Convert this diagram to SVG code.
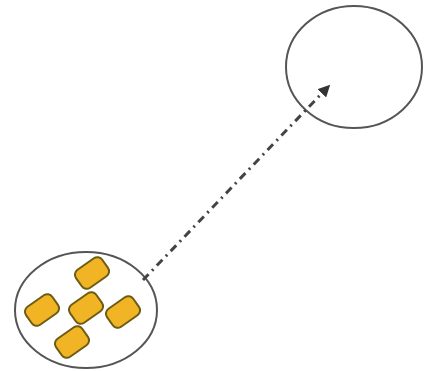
<svg xmlns="http://www.w3.org/2000/svg" width="424" height="371" viewBox="0 0 424 371">
<style>
.c{fill:#fff;stroke:#555;stroke-width:2}
.r{fill:#f0b424;stroke:#6e5c14;stroke-width:2}
.e{fill:none;stroke:#444;stroke-width:3;stroke-dasharray:8 5 2 5}
</style>
<defs>
<marker id="ah" viewBox="0 0 10 10" refX="5" refY="5" markerWidth="4" markerHeight="4" orient="auto">
<path d="M0,0L10,5L0,10z" fill="#333"/>
</marker>
</defs>
<rect width="424" height="371" fill="#fff"/>
<g id="target"><ellipse class="c" cx="354" cy="67" rx="68" ry="61"/></g>
<g id="source">
<ellipse class="c" cx="86" cy="310" rx="71" ry="58"/>
<rect class="r" x="-16" y="-11" width="32" height="22" rx="6" transform="translate(92,273) rotate(-35)"/>
<rect class="r" x="-16" y="-11" width="32" height="22" rx="6" transform="translate(42,310) rotate(-35)"/>
<rect class="r" x="-16" y="-11" width="32" height="22" rx="6" transform="translate(86,308) rotate(-35)"/>
<rect class="r" x="-16" y="-11" width="32" height="22" rx="6" transform="translate(123,312) rotate(-35)"/>
<rect class="r" x="-16" y="-11" width="32" height="22" rx="6" transform="translate(72,342) rotate(-35)"/>
</g>
<g id="connectors">
<path class="e" d="M143,280L326,89" marker-end="url(#ah)"/>
</g>
</svg>
